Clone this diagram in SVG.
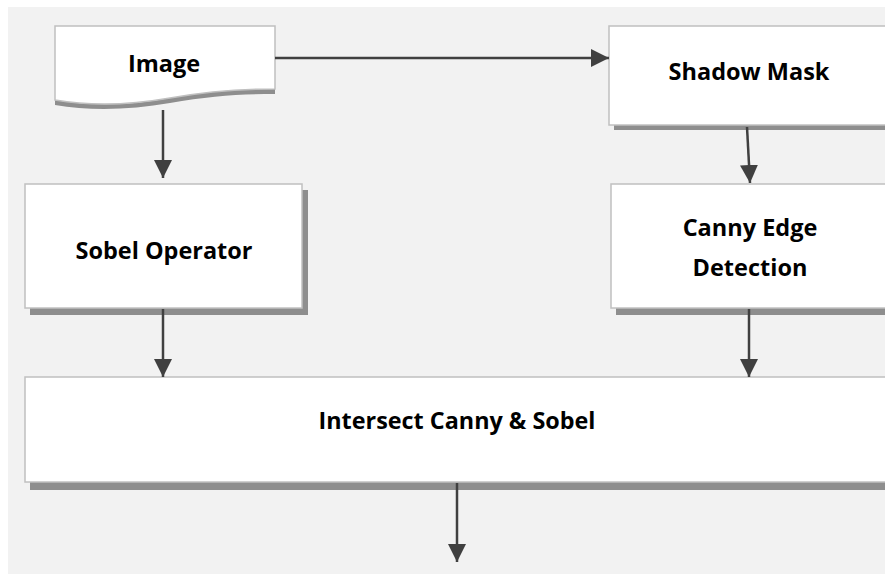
<svg xmlns="http://www.w3.org/2000/svg" width="885" height="574" viewBox="0 0 885 574">
<style>
.box{fill:#ffffff;stroke:#c0c0c0;stroke-width:1.5}
.shadow{fill:#8e8e8e}
.lbl{font-family:"Open Sans","Noto Sans","Liberation Sans",sans-serif;font-weight:bold;font-size:23.5px;fill:#000;text-anchor:middle}
.conn{stroke:#404040;stroke-width:2.5;fill:none;marker-end:url(#ah)}
</style>
<defs>
<marker id="ah" markerUnits="userSpaceOnUse" markerWidth="18" markerHeight="18" viewBox="0 0 16 16" refX="16" refY="8" orient="auto">
<path d="M0,0 L16,8 L0,16 Z" fill="#404040"/>
</marker>
</defs>
<rect x="0" y="0" width="885" height="574" fill="#ffffff"/>
<rect x="8" y="7" width="877" height="567" fill="#f2f2f2"/>

<g id="image">
<path class="shadow" d="M55,100 C90,106 130,106 170,98 S240,89 275,89 L275,94 C240,94 210,96 170,103 S90,111 55,105 Z"/>
<path class="box" d="M55,26 H275 V89 C240,89 210,91 170,98 S90,106 55,100 Z"/>
<text class="lbl" x="164" y="72">Image</text>
</g>

<g id="shadow-mask">
<rect class="shadow" x="614" y="32" width="280" height="98"/>
<rect class="box" x="609" y="26" width="280" height="99"/>
<text class="lbl" x="749" y="80">Shadow Mask</text>
</g>

<g id="sobel">
<rect class="shadow" x="30" y="190" width="278" height="125"/>
<rect class="box" x="25" y="184" width="277" height="124"/>
<text class="lbl" x="164" y="259" textLength="177" lengthAdjust="spacingAndGlyphs">Sobel Operator</text>
</g>

<g id="canny">
<rect class="shadow" x="616" y="190" width="280" height="125"/>
<rect class="box" x="611" y="184" width="280" height="124"/>
<text class="lbl" x="750" y="236">Canny Edge</text>
<text class="lbl" x="750" y="276">Detection</text>
</g>

<g id="intersect">
<rect class="shadow" x="30" y="383" width="870" height="107"/>
<rect class="box" x="25" y="377" width="870" height="105"/>
<text class="lbl" x="457" y="429" textLength="277" lengthAdjust="spacingAndGlyphs">Intersect Canny &amp; Sobel</text>
</g>

<g id="connectors">
<line class="conn" x1="275" y1="58" x2="609" y2="58"/>
<line class="conn" x1="163" y1="110" x2="163" y2="178"/>
<line class="conn" x1="747" y1="127" x2="750" y2="183"/>
<line class="conn" x1="163" y1="309" x2="163" y2="377"/>
<line class="conn" x1="749" y1="309" x2="749" y2="377"/>
<line class="conn" x1="457" y1="483" x2="457" y2="562"/>
</g>
</svg>
